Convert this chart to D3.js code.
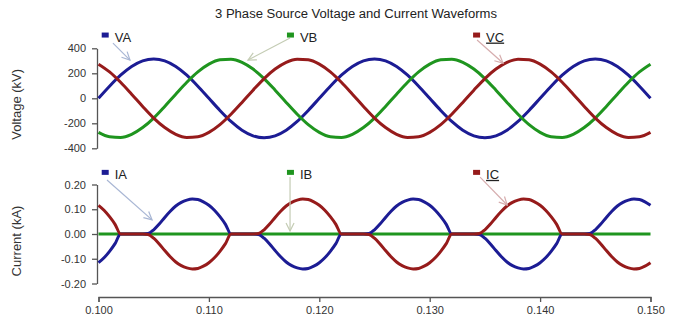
<!DOCTYPE html>
<html>
<head>
<meta charset="utf-8">
<script src="https://cdn.jsdelivr.net/npm/d3@7"></script>
<style>
  body { margin: 0; background: #fff; }
  svg { display: block; font-family: "Liberation Sans", Arial, sans-serif; }
</style>
</head>
<body>
<svg id="chart"></svg>
<script>
// sample instants (s)
const vTime = d3.range(0, 51).map(k => 0.100 + k * 0.001);
const iTime = d3.range(0, 101).map(k => 0.100 + k * 0.0005);

// voltages (kV), read every 1 ms
const vaValues = [0, 97, 185, 255, 300, 315, 300, 255, 185, 97, 0, -97, -185, -255, -300, -315, -300, -255, -185, -97,
  0, 97, 185, 255, 300, 315, 300, 255, 185, 97, 0, -97, -185, -255, -300, -315, -300, -255, -185, -97,
  0, 97, 185, 255, 300, 315, 300, 255, 185, 97, 0];
const vbValues = [-273, -308, -313, -288, -234, -158, -65, 33, 128, 211, 273, 308, 313, 288, 234, 158, 65, -33, -128, -211,
  -273, -308, -313, -288, -234, -158, -65, 33, 128, 211, 273, 308, 313, 288, 234, 158, 65, -33, -128, -211,
  -273, -308, -313, -288, -234, -158, -65, 33, 128, 211, 273];
const vcValues = [273, 211, 128, 33, -65, -158, -234, -288, -313, -308, -273, -211, -128, -33, 65, 158, 234, 288, 313, 308,
  273, 211, 128, 33, -65, -158, -234, -288, -313, -308, -273, -211, -128, -33, 65, 158, 234, 288, 313, 308,
  273, 211, 128, 33, -65, -158, -234, -288, -313, -308, -273];

// currents (kA), read every 0.5 ms
const iaValues = [-0.116, -0.096, -0.070, -0.039, 0, 0, 0, 0, 0,
  0.002, 0.017, 0.040, 0.067, 0.092, 0.113, 0.128, 0.137, 0.141, 0.139, 0.130, 0.116, 0.096, 0.070, 0.039, 0, 0, 0, 0, 0,
  -0.002, -0.017, -0.040, -0.067, -0.092, -0.113, -0.128, -0.137, -0.141, -0.139, -0.130, -0.116, -0.096, -0.070, -0.039, 0, 0, 0, 0, 0,
  0.002, 0.017, 0.040, 0.067, 0.092, 0.113, 0.128, 0.137, 0.141, 0.139, 0.130, 0.116, 0.096, 0.070, 0.039, 0, 0, 0, 0, 0,
  -0.002, -0.017, -0.040, -0.067, -0.092, -0.113, -0.128, -0.137, -0.141, -0.139, -0.130, -0.116, -0.096, -0.070, -0.039, 0, 0, 0, 0, 0,
  0.002, 0.017, 0.040, 0.067, 0.092, 0.113, 0.128, 0.137, 0.141, 0.139, 0.130, 0.116];
const icValues = [0.116, 0.096, 0.070, 0.039, 0, 0, 0, 0, 0,
  -0.002, -0.017, -0.040, -0.067, -0.092, -0.113, -0.128, -0.137, -0.141, -0.139, -0.130, -0.116, -0.096, -0.070, -0.039, 0, 0, 0, 0, 0,
  0.002, 0.017, 0.040, 0.067, 0.092, 0.113, 0.128, 0.137, 0.141, 0.139, 0.130, 0.116, 0.096, 0.070, 0.039, 0, 0, 0, 0, 0,
  -0.002, -0.017, -0.040, -0.067, -0.092, -0.113, -0.128, -0.137, -0.141, -0.139, -0.130, -0.116, -0.096, -0.070, -0.039, 0, 0, 0, 0, 0,
  0.002, 0.017, 0.040, 0.067, 0.092, 0.113, 0.128, 0.137, 0.141, 0.139, 0.130, 0.116, 0.096, 0.070, 0.039, 0, 0, 0, 0, 0,
  -0.002, -0.017, -0.040, -0.067, -0.092, -0.113, -0.128, -0.137, -0.141, -0.139, -0.130, -0.116];
const ibTime = [0.100, 0.150];
const ibValues = [0, 0];

const timeTicks = [0.100, 0.110, 0.120, 0.130, 0.140, 0.150];
const voltTicks = [-400, -200, 0, 200, 400];
const currTicks = [-0.20, -0.10, 0.00, 0.10, 0.20];

const titleText = '3 Phase Source Voltage and Current Waveforms';

// labels with arrows: [name, panel, label t, label y, tail t, tail y, tip t, tip y]
const voltLabels = [
  ['VA', 0.10029, 506, 0.10131, 442, 0.10285, 306],
  ['VB', 0.11707, 506, 0.11735, 482, 0.11354, 306],
  ['VC', 0.13393, 506, 0.13429, 466, 0.13664, 282]
];
const currLabels = [
  ['IA', 0.10029, 0.249, 0.10077, 0.218, 0.10485, 0.057],
  ['IB', 0.11707, 0.249, 0.11735, 0.230, 0.11735, 0.012],
  ['IC', 0.13393, 0.249, 0.13456, 0.230, 0.13702, 0.117]
];

const lineColors = ['#1c1c94', '#1f951f', '#961b1b'];
const arrowColors = ['#a8b6d4', '#c4ccb4', '#d6adae'];

const width = 698, height = 324;
const svg = d3.select('#chart').attr('width', width).attr('height', height);

const x = d3.scaleLinear().domain([0.100, 0.150]).range([98.5, 650.5]);
const yV = d3.scaleLinear().domain([-400, 400]).range([148.3, 48.3]);
const yI = d3.scaleLinear().domain([-0.2, 0.2]).range([283.5, 184.5]);

// title
svg.append('text')
  .attr('x', 356).attr('y', 18)
  .attr('text-anchor', 'middle')
  .attr('font-size', 12)
  .attr('textLength', 282)
  .attr('lengthAdjust', 'spacingAndGlyphs')
  .attr('fill', '#222')
  .text(titleText);

// axes
function styleAxis(g) {
  g.select('.domain').attr('stroke', '#555').attr('stroke-width', 1.3);
  g.selectAll('.tick line').attr('stroke', '#555').attr('stroke-width', 1.3);
  g.selectAll('.tick text').attr('fill', '#333').attr('font-size', 11)
    .attr('font-family', '"Liberation Sans", Arial, sans-serif');
}

svg.append('g')
  .attr('transform', `translate(${x(0.100) - 1.5},0)`)
  .call(d3.axisLeft(yV).tickValues(voltTicks).tickSize(5).tickSizeOuter(0).tickPadding(6)
    .tickFormat(d => d.toString()))
  .call(styleAxis);

svg.append('g')
  .attr('transform', `translate(${x(0.100) - 1.5},0)`)
  .call(d3.axisLeft(yI).tickValues(currTicks).tickSize(5).tickSizeOuter(0).tickPadding(6)
    .tickFormat(d => d.toFixed(2)))
  .call(styleAxis);

svg.append('g')
  .attr('transform', 'translate(0,297)')
  .call(d3.axisBottom(x).tickValues(timeTicks).tickSize(5).tickSizeOuter(5).tickPadding(4)
    .tickFormat(d => d.toFixed(3)))
  .call(styleAxis);

// axis titles
svg.append('text')
  .attr('transform', `translate(21,${yV(0) + 6}) rotate(-90)`)
  .attr('text-anchor', 'middle')
  .attr('font-size', 13)
  .attr('fill', '#333')
  .text('Voltage (kV)');

svg.append('text')
  .attr('transform', `translate(21,${yI(0) + 7}) rotate(-90)`)
  .attr('text-anchor', 'middle')
  .attr('font-size', 13)
  .attr('fill', '#333')
  .text('Current (kA)');

// waveforms
function drawSeries(times, values, yScale, color) {
  const pts = times.map((t, i) => [t, values[i]]);
  svg.append('path')
    .datum(pts)
    .attr('fill', 'none')
    .attr('stroke', color)
    .attr('stroke-width', 3)
    .attr('stroke-linejoin', 'round')
    .attr('d', d3.line()
      .x(d => x(d[0]))
      .y(d => yScale(d[1]))
      .curve(d3.curveMonotoneX));
}

drawSeries(vTime, vaValues, yV, lineColors[0]);
drawSeries(vTime, vbValues, yV, lineColors[1]);
drawSeries(vTime, vcValues, yV, lineColors[2]);

drawSeries(ibTime, ibValues, yI, lineColors[1]);
drawSeries(iTime, iaValues, yI, lineColors[0]);
drawSeries(iTime, icValues, yI, lineColors[2]);

// arrow markers
const defs = svg.append('defs');
arrowColors.forEach((c, i) => {
  defs.append('marker')
    .attr('id', 'head' + i)
    .attr('viewBox', '0 0 10 10')
    .attr('refX', 9).attr('refY', 5)
    .attr('markerWidth', 10).attr('markerHeight', 10)
    .attr('markerUnits', 'userSpaceOnUse')
    .attr('orient', 'auto')
    .append('path')
    .attr('d', 'M1,1 L9,5 L1,9')
    .attr('fill', 'none')
    .attr('stroke', c)
    .attr('stroke-width', 1.2);
});

function drawLabels(labels, yScale) {
  labels.forEach((d, i) => {
    const lx = x(d[1]), ly = yScale(d[2]);
    svg.append('line')
      .attr('x1', x(d[3])).attr('y1', yScale(d[4]))
      .attr('x2', x(d[5])).attr('y2', yScale(d[6]))
      .attr('stroke', arrowColors[i])
      .attr('stroke-width', 1.2)
      .attr('marker-end', `url(#head${i})`);
    svg.append('rect')
      .attr('x', lx).attr('y', ly - 2.5)
      .attr('width', 7).attr('height', 5)
      .attr('fill', lineColors[i]);
    svg.append('text')
      .attr('x', lx + 13).attr('y', ly + 6.5)
      .attr('font-size', 13)
      .attr('fill', '#222')
      .style('text-decoration', i === 2 ? 'underline' : 'none')
      .text(d[0]);
  });
}

drawLabels(voltLabels, yV);
drawLabels(currLabels, yI);
</script>
</body>
</html>
